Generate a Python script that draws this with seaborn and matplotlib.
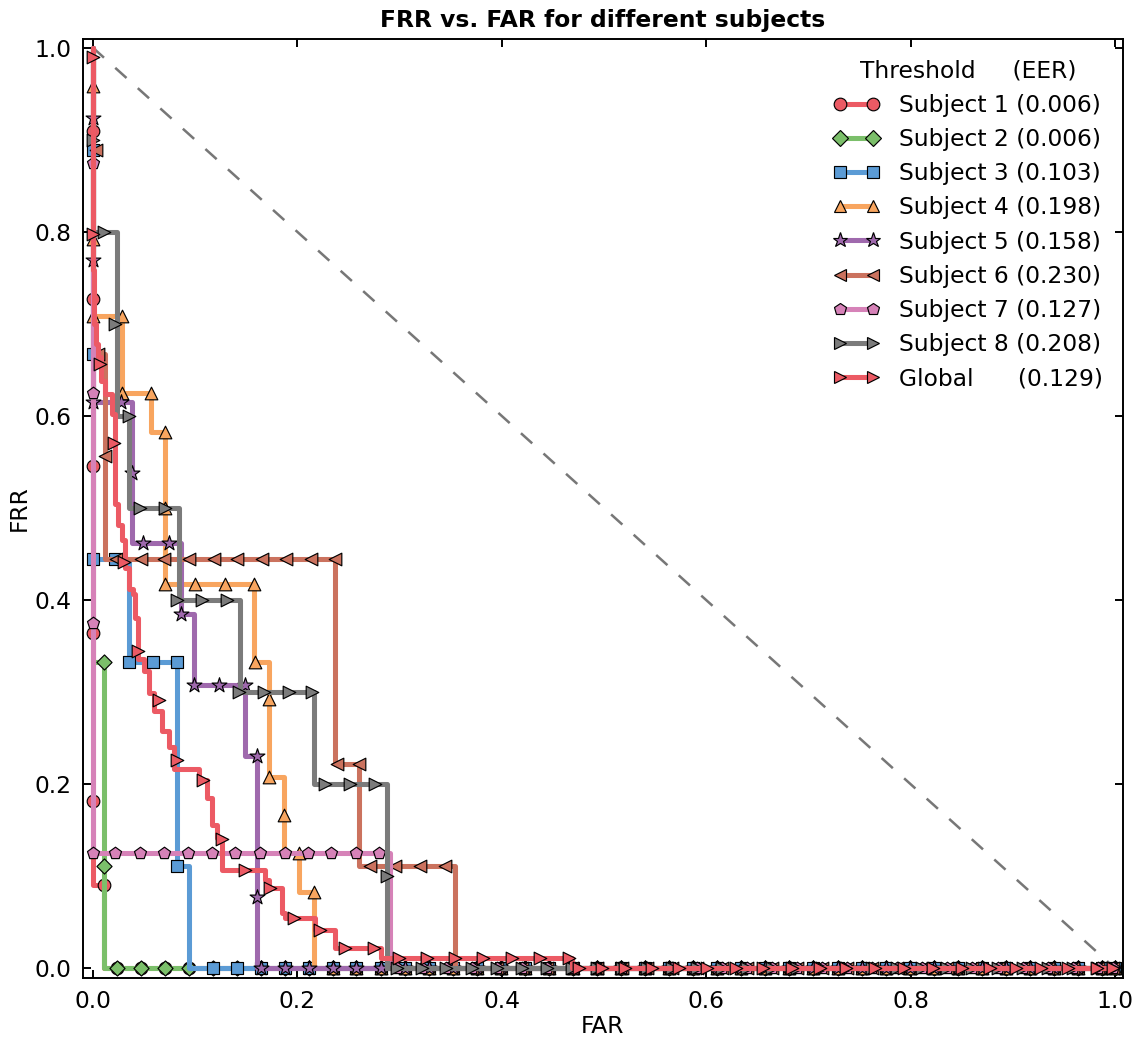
import numpy as np
import pandas as pd
import matplotlib
matplotlib.use("Agg")
import matplotlib.pyplot as plt
from matplotlib.lines import Line2D
import seaborn as sns

# ---------------- data ----------------
names = ["Subject 1", "Subject 2", "Subject 3", "Subject 4", "Subject 5",
         "Subject 6", "Subject 7", "Subject 8", "Global"]
eer = [0.006, 0.006, 0.103, 0.198, 0.158, 0.230, 0.127, 0.208, 0.129]

# step curves (FAR, FRR) corner points, drawn as steps-post
s1_far = [0.0, 0.0, 0.011, 1.0]
s1_frr = [1.0, 0.091, 0.0, 0.0]
s2_far = [0.0, 0.0, 0.011, 1.0]
s2_frr = [1.0, 0.333, 0.0, 0.0]
s3_far = [0.0, 0.0, 0.0354, 0.0826, 0.094, 1.0]
s3_frr = [1.0, 0.444, 0.333, 0.111, 0.0, 0.0]
s4_far = [0.0, 0.0, 0.0288, 0.0572, 0.0712, 0.1575, 0.172, 0.187, 0.2015, 0.216, 1.0]
s4_frr = [1.0, 0.708, 0.625, 0.583, 0.417, 0.333, 0.208, 0.125, 0.083, 0.0, 0.0]
s5_far = [0.0, 0.0, 0.038, 0.0868, 0.0989, 0.1493, 0.1607, 1.0]
s5_frr = [1.0, 0.615, 0.462, 0.385, 0.308, 0.231, 0.0, 0.0]
s6_far = [0.0, 0.0, 0.0119, 0.2369, 0.2607, 0.3545, 1.0]
s6_frr = [1.0, 0.667, 0.444, 0.222, 0.111, 0.0, 0.0]
s7_far = [0.0, 0.0, 0.291, 1.0]
s7_frr = [1.0, 0.125, 0.0, 0.0]
s8_far = [0.0, 0.0, 0.0233, 0.0354, 0.0842, 0.1444, 0.216, 0.2877, 0.2877, 1.0]
s8_frr = [1.0, 0.8, 0.6, 0.5, 0.4, 0.3, 0.2, 0.1, 0.0, 0.0]
g_far = [0.0, 0.0, 0.0012, 0.0028, 0.0054, 0.0086, 0.0122, 0.019, 0.022, 0.0249,
         0.0288, 0.0315, 0.0354, 0.0393, 0.0418, 0.0448, 0.050, 0.0549, 0.0598,
         0.0679, 0.075, 0.0793, 0.1038, 0.1119, 0.1168, 0.1216, 0.1265, 0.1688,
         0.172, 0.185, 0.188, 0.2177, 0.2372, 0.2822, 0.4688, 1.0]
g_frr = [1.0, 0.758, 0.70, 0.678, 0.664, 0.638, 0.624, 0.602, 0.504, 0.481,
         0.465, 0.435, 0.412, 0.406, 0.381, 0.336, 0.323, 0.2995, 0.2796,
         0.258, 0.24, 0.216, 0.204, 0.185, 0.156, 0.142, 0.107, 0.096,
         0.087, 0.06, 0.0546, 0.0418, 0.022, 0.011, 0.0, 0.0]

# marker positions seen on each curve
s1_mfar = [0.0, 0.0, 0.0, 0.0, 0.0, 0.011]
s1_mfrr = [0.909, 0.727, 0.545, 0.364, 0.182, 0.091]
s2_mfar = [0.011, 0.011]
s2_mfrr = [0.333, 0.111]
s3_mfar = [0.0, 0.0, 0.0, 0.0223, 0.0354, 0.0588, 0.0826, 0.0826]
s3_mfrr = [0.889, 0.667, 0.444, 0.444, 0.333, 0.333, 0.333, 0.111]
s4_mfar = [0.0, 0.0, 0.0, 0.0288, 0.0288, 0.0572, 0.0712, 0.0712, 0.0712, 0.1005,
           0.129, 0.1575, 0.1585, 0.172, 0.172, 0.187, 0.2015, 0.2161]
s4_mfrr = [0.958, 0.792, 0.708, 0.708, 0.625, 0.625, 0.583, 0.5, 0.417, 0.417,
           0.417, 0.417, 0.333, 0.292, 0.208, 0.167, 0.125, 0.083]
s5_mfar = [0.0, 0.0, 0.0, 0.0272, 0.038, 0.049, 0.0744, 0.0868, 0.0989, 0.1239,
           0.1493, 0.1607, 0.1607]
s5_mfrr = [0.923, 0.769, 0.615, 0.615, 0.538, 0.462, 0.462, 0.385, 0.308, 0.308,
           0.308, 0.231, 0.077]
s6_mfar = [0.003, 0.005, 0.0119, 0.0227, 0.047, 0.0699, 0.0943, 0.1187, 0.1415,
           0.1659, 0.1887, 0.2132, 0.2366, 0.2389, 0.26, 0.2714, 0.2958, 0.3203, 0.3447]
s6_mfrr = [0.889, 0.667, 0.556, 0.444, 0.444, 0.444, 0.444, 0.444, 0.444,
           0.444, 0.444, 0.444, 0.444, 0.222, 0.222, 0.111, 0.111, 0.111, 0.111]
s7_mfar = [0.0, 0.0, 0.0, 0.0, 0.0223, 0.0467, 0.0696, 0.0933, 0.1168, 0.1395,
           0.1634, 0.1878, 0.2105, 0.2333, 0.2575, 0.2802]
s7_mfrr = [0.875, 0.625, 0.375, 0.125, 0.125, 0.125, 0.125, 0.125, 0.125, 0.125,
           0.125, 0.125, 0.125, 0.125, 0.125, 0.125]
s8_mfar = [0.0, 0.011, 0.0223, 0.0354, 0.0467, 0.0711, 0.0826, 0.107, 0.1314,
           0.1428, 0.1672, 0.1916, 0.2148, 0.2275, 0.2519, 0.2757, 0.2877]
s8_mfrr = [0.9, 0.8, 0.7, 0.6, 0.5, 0.5, 0.4, 0.4, 0.4,
           0.3, 0.3, 0.3, 0.3, 0.2, 0.2, 0.2, 0.1]
g_mfar = [0.0, 0.0, 0.0067, 0.0207, 0.0305, 0.0445, 0.0653, 0.0826, 0.1077, 0.1265,
          0.1487, 0.1737, 0.1966, 0.2226, 0.247, 0.2747, 0.2992, 0.3268, 0.3545,
          0.3822, 0.4102, 0.4379, 0.4656]
g_mfrr = [0.99, 0.797, 0.656, 0.571, 0.441, 0.345, 0.291, 0.226, 0.204, 0.14,
          0.107, 0.087, 0.0546, 0.0418, 0.022, 0.022, 0.011, 0.011, 0.011,
          0.011, 0.011, 0.011, 0.011]

# markers lying on the FRR = 0 plateau
tail_far_a = [0.0235, 0.047, 0.0705, 0.094, 0.118, 0.141, 0.165, 0.188, 0.2115,
              0.235, 0.258, 0.282, 0.3055, 0.329, 0.3525, 0.376, 0.3995, 0.423,
              0.4465, 0.47, 0.4935, 0.517, 0.5405, 0.564, 0.5875, 0.611, 0.6345,
              0.658, 0.6815, 0.705, 0.7285, 0.752, 0.7755, 0.799, 0.8225, 0.846,
              0.8695, 0.893, 0.9165, 0.94, 0.9635, 0.987, 1.0]
tail_far_b = [0.2975, 0.322, 0.346, 0.371, 0.395, 0.4195, 0.444, 0.4685, 0.493,
              0.5175, 0.542, 0.5665, 0.591, 0.6155, 0.64, 0.6645, 0.689, 0.7135,
              0.738, 0.7625, 0.787, 0.8115, 0.836, 0.8605, 0.885, 0.9095, 0.934,
              0.9585, 0.983, 0.998]
g_tail_far = [0.476, 0.498, 0.521, 0.547, 0.573, 0.601, 0.629, 0.656, 0.684, 0.711,
              0.737, 0.765, 0.794, 0.822, 0.850, 0.878, 0.903, 0.928, 0.954, 0.982, 0.998]

diag_far = [0.0, 1.0]
diag_frr = [1.0, 0.0]

# ---------------- style ----------------
sns.set_theme(style="ticks")
plt.rcParams.update({
    "font.family": ["DejaVu Sans"],
    "font.size": 12,
    "axes.linewidth": 1.0,
    "axes.edgecolor": "black",
    "xtick.direction": "in", "ytick.direction": "in",
    "xtick.top": True, "ytick.right": True,
    "xtick.major.size": 4, "ytick.major.size": 4,
    "xtick.major.width": 1.0, "ytick.major.width": 1.0,
    "xtick.major.pad": 6, "ytick.major.pad": 6,
    "xtick.labelsize": 12, "ytick.labelsize": 12,
    "xtick.color": "black", "ytick.color": "black",
    "axes.labelsize": 12,
    "text.color": "black", "axes.labelcolor": "black",
    "figure.facecolor": "white", "axes.facecolor": "white",
})

colors = ["#ec5a64", "#7bbf6a", "#5b9bd5", "#f8a55f", "#9f69ad",
          "#cb725e", "#d682b8", "#7b7b7b", "#ec5a64"]
markers = ["o", "D", "s", "^", "*", "<", "p", ">", ">"]
msizes = [6.5, 5.5, 6.0, 6.5, 8.0, 6.5, 6.5, 6.5, 6.5]

curves = [(s1_far, s1_frr), (s2_far, s2_frr), (s3_far, s3_frr), (s4_far, s4_frr),
          (s5_far, s5_frr), (s6_far, s6_frr), (s7_far, s7_frr), (s8_far, s8_frr),
          (g_far, g_frr)]
marks = [(s1_mfar, s1_mfrr), (s2_mfar, s2_mfrr), (s3_mfar, s3_mfrr), (s4_mfar, s4_mfrr),
         (s5_mfar, s5_mfrr), (s6_mfar, s6_mfrr), (s7_mfar, s7_mfrr), (s8_mfar, s8_mfrr),
         (g_mfar, g_mfrr)]
tails = [tail_far_a] * 5 + [tail_far_b] * 3 + [g_tail_far]

DPI = 140
fig = plt.figure(figsize=(1143 / DPI, 1038 / DPI), dpi=DPI)
ax = fig.add_axes([0.0726, 0.0578, 0.9097, 0.9051])

lw = 2.6
for i, ((cx, cy), (mx, my)) in enumerate(zip(curves, marks)):
    c = colors[i]
    sns.lineplot(x=cx, y=cy, ax=ax, color=c, lw=lw, drawstyle="steps-post",
                 estimator=None, sort=False, zorder=2 + 2 * i, legend=False)
    last_drop = cx[-2]
    tx = [x for x in tails[i] if x > last_drop]
    allx = list(mx) + tx
    ally = list(my) + [0.0] * len(tx)
    sns.scatterplot(x=allx, y=ally, ax=ax, marker=markers[i], s=msizes[i] ** 2,
                    color=c, edgecolor="black", linewidth=0.6,
                    zorder=3 + 2 * i, legend=False)

ax.plot(diag_far, diag_frr, ls=(0, (6, 6)), color="#777777", lw=1.3, zorder=1)

ax.set_xlim(-0.0095, 1.0075)
ax.set_ylim(-0.0105, 1.0098)
ax.set_xticks([0.0, 0.2, 0.4, 0.6, 0.8, 1.0])
ax.set_yticks([0.0, 0.2, 0.4, 0.6, 0.8, 1.0])
ax.set_xticklabels(["0.0", "0.2", "0.4", "0.6", "0.8", "1.0"])
ax.set_yticklabels(["0.0", "0.2", "0.4", "0.6", "0.8", "1.0"])
ax.set_xlabel("FAR", fontsize=12, labelpad=1)
ax.set_ylabel("FRR", fontsize=12, labelpad=2)
ax.set_title("FRR vs. FAR for different subjects", fontsize=12, fontweight="bold", pad=6)

handles = []
labels = []
for i in range(9):
    handles.append(Line2D([], [], color=colors[i], lw=lw, marker=markers[i],
                          markersize=msizes[i], markerfacecolor=colors[i],
                          markeredgecolor="black", markeredgewidth=0.6))
    if i < 8:
        labels.append(f"{names[i]} ({eer[i]:.3f})")
    else:
        labels.append(f"{names[i]}      ({eer[i]:.3f})")
leg = ax.legend(handles, labels, title="Threshold     (EER)", loc="upper right",
                bbox_to_anchor=(1.0 + 1 / 1040, 1.0),
                frameon=False, numpoints=2, handlelength=2.0, handletextpad=0.8,
                labelspacing=0.48, borderaxespad=0.5, fontsize=12, title_fontsize=12)
leg.set_zorder(30)

fig.savefig("out.png", dpi=DPI, facecolor="white")
